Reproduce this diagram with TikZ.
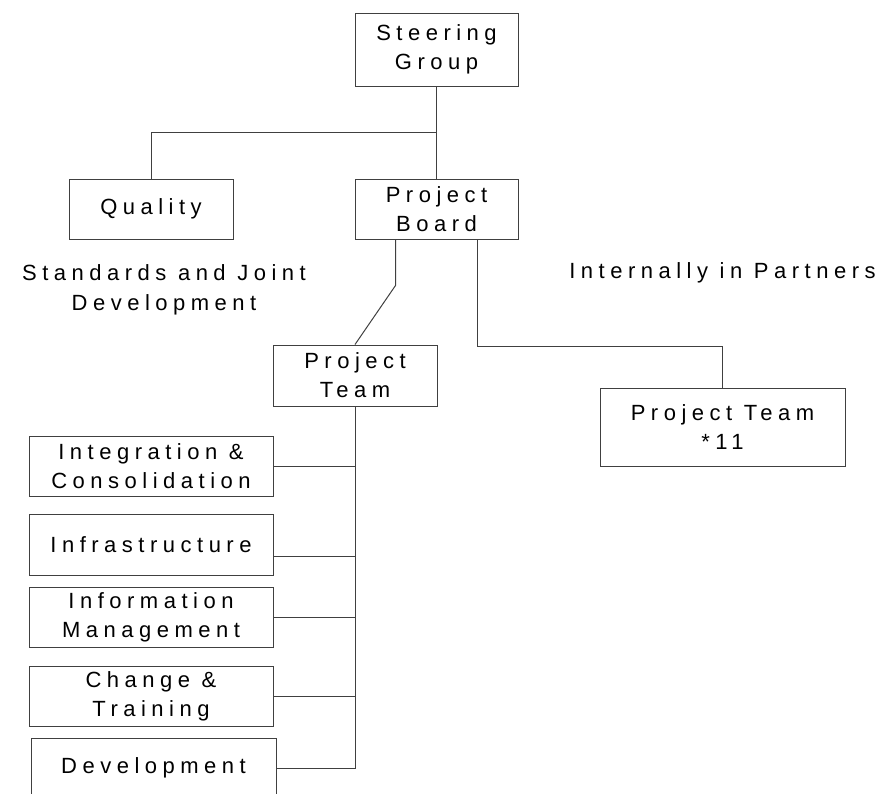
\documentclass[tikz,border=0pt]{standalone}
\usepackage{fontspec}
\setmainfont{Liberation Sans}[LetterSpace=25]
\usepackage{tikz}
\usetikzlibrary{calc}
\tikzset{box/.style={draw=black!75, line width=1pt, align=center, inner sep=0pt, font=\fontsize{22}{29}\selectfont}}
\tikzset{note/.style={align=center, inner sep=0pt, font=\fontsize{22}{30}\selectfont}}
\tikzset{link/.style={draw=black!75, line width=1pt}}

\begin{document}
\begin{tikzpicture}[x=1pt, y=-1pt]
  \clip (0, 0) rectangle (883, 793);

  \node[box, minimum width=163pt, minimum height=73pt] (steering) at (436.5, 49.5) {Steering\\Group};
  \node[box, minimum width=164pt, minimum height=60pt] (quality) at (151, 209) {Quality};
  \node[box, minimum width=163pt, minimum height=60pt] (board) at (436.5, 209) {Project\\Board};
  \node[box, minimum width=164pt, minimum height=61pt] (team) at (355, 375.5) {Project\\Team};
  \node[box, minimum width=245pt, minimum height=78pt] (partnerteam) at (722.5, 427) {Project Team\\*11};

  \node[box, minimum width=244pt, minimum height=60pt] (integ) at (151, 466) {Integration \&\\Consolidation};
  \node[box, minimum width=244pt, minimum height=61pt] (infra) at (151, 544.5) {Infrastructure};
  \node[box, minimum width=244pt, minimum height=60pt] (info) at (151, 617) {Information\\Management};
  \node[box, minimum width=244pt, minimum height=60pt] (change) at (151, 696) {Change \&\\Training};
  \node[box, minimum width=245pt, minimum height=60pt] (devel) at (153.5, 768) {Development};

  \node[note] (standards) at (164, 290) {Standards and Joint\\Development};
  \node[note] (partners) at (722.5, 273) {Internally in Partners};

  \draw[link] (steering) -- (board);
  \draw[link] ($(steering.south)!0.5!(board.north)$) -| (quality.north);
  \draw[link] ($(board.south west)!0.25!(board.south east)$) -- ++(0, 46) -- (team.north);
  \draw[link] ($(board.south west)!0.75!(board.south east)$) -- ++(0, 107) -| (partnerteam.north);

  \draw[link] (team.south) |- (devel.east);
  \draw[link] (integ.east) -- (integ.east -| team.south);
  \draw[link] ($(infra.north east)!0.7!(infra.south east)$) -- ++(82, 0);
  \draw[link] (info.east) -- (info.east -| team.south);
  \draw[link] (change.east) -- (change.east -| team.south);
\end{tikzpicture}
\end{document}
